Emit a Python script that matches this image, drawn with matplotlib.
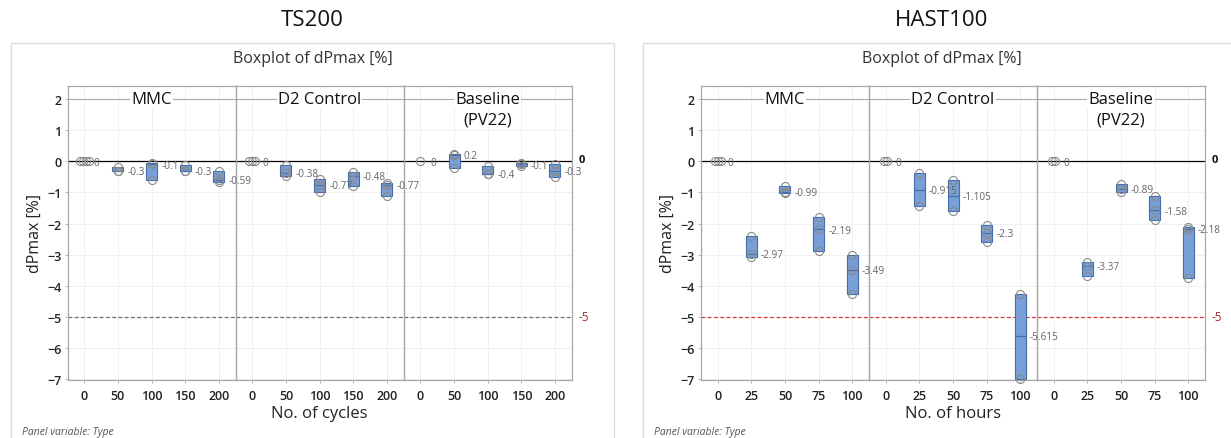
import matplotlib
matplotlib.use("Agg")
import matplotlib.pyplot as plt
from matplotlib.patches import Rectangle
import numpy as np

plt.rcParams['font.family'] = ['Open Sans', 'DejaVu Sans']

# ---------------- data ----------------
panel_types = ['MMC', 'D2 Control', 'Baseline\n(PV22)']

ts_x = [0, 50, 100, 150, 200]
ts_mmc = [[0, 0, 0, 0], [-0.17, -0.3, -0.32], [-0.07, -0.1, -0.6],
          [-0.12, -0.3, -0.31], [-0.3, -0.59, -0.66]]
ts_d2 = [[0, 0, 0], [-0.12, -0.38, -0.48], [-0.57, -0.77, -1.0],
         [-0.33, -0.48, -0.78], [-0.7, -0.77, -1.1]]
ts_base = [[0], [-0.2, 0.2, 0.22], [-0.16, -0.4, -0.41],
           [-0.05, -0.1, -0.15], [-0.08, -0.3, -0.5]]

hast_x = [0, 25, 50, 75, 100]
hast_mmc = [[0, 0, 0], [-2.4, -2.97, -3.08], [-0.8, -0.99, -1.02],
            [-1.8, -2.19, -2.88], [-3.0, -3.49, -4.25]]
hast_d2 = [[0, 0], [-0.39, -1.44], [-0.6, -1.61],
           [-2.05, -2.3, -2.58], [-4.25, -6.98]]
hast_base = [[0, 0], [-3.22, -3.37, -3.68], [-0.72, -0.89, -1.0],
             [-1.12, -1.58, -1.9], [-2.1, -2.18, -3.75]]

ref_values = [0, -5]
y_ticks = [2, 1, 0, -1, -2, -3, -4, -5, -6, -7]

# ---------------- style ----------------
W, H = 1231, 439
BOX_FC = '#789fd7'
BOX_EC = '#446eab'
CIRC = '#8a8a8a'
SPINE = '#a8a8a8'
GRID = '#eeeeee'
YLIM = (-7.01, 2.42)

fig = plt.figure(figsize=(W / 100, H / 100), dpi=100)


def fx(px):
    return px / W


def fy(py):
    return 1 - py / H


def draw_group(ax, x, pts, bw, jstep):
    pts = np.asarray(pts, dtype=float)
    lo, hi, med = pts.min(), pts.max(), float(np.median(pts))
    if hi > lo:
        ax.add_patch(Rectangle((x - bw / 2, lo), bw, hi - lo, fc=BOX_FC,
                               ec=BOX_EC, lw=0.8, zorder=3))
        ax.plot([x - bw / 2, x + bw / 2], [med, med], color=BOX_EC, lw=0.9,
                zorder=4, solid_capstyle='butt')
    maxoff = 0.0
    vals, counts = np.unique(pts, return_counts=True)
    for v, c in zip(vals, counts):
        offs = (np.arange(c) - (c - 1) / 2) * jstep
        maxoff = max(maxoff, offs.max())
        ax.plot(x + offs, [v] * c, linestyle='none', marker='o', ms=5.8,
                mfc='none', mec=CIRC, mew=0.8, zorder=5, clip_on=False)
    lab = ('%.3f' % med).rstrip('0').rstrip('.')
    if lab in ('-0', ''):
        lab = '0'
    ax.annotate(lab, xy=(x + max(bw / 2, maxoff), med), xytext=(3, -0.5),
                textcoords='offset points', ha='left', va='center',
                fontsize=7.2, color='#666666', zorder=6, annotation_clip=False)


def draw_figure(left_px, right_px, xvals, groups, title, xlabel, ref5_color,
                box_left, box_right):
    fig.add_artist(Rectangle((fx(box_left), -0.02), fx(box_right - box_left),
                             fy(44) + 0.02, transform=fig.transFigure,
                             fill=False, ec='#dcdcdc', lw=1.0))
    cx = (box_left + box_right) / 2
    fig.text(fx(cx), fy(20), title, ha='center', va='center', fontsize=16,
             color='#111111')
    fig.text(fx(cx), fy(59), 'Boxplot of dPmax [%]', ha='center', va='center',
             fontsize=11.5, color='#333333')
    top_px, bot_px = 87, 380.5
    pw = (right_px - left_px) / 3
    step = xvals[1] - xvals[0]
    xlim = (xvals[0] - step / 2, xvals[-1] + step / 2)
    xr = xlim[1] - xlim[0]
    bw = xr * 11 / pw
    jstep = xr * 3 / pw
    axes = []
    for i, (name, grp) in enumerate(zip(panel_types, groups)):
        ax = fig.add_axes([fx(left_px + i * pw), fy(bot_px), fx(pw),
                           (bot_px - top_px) / H])
        ax.set_zorder(10 - i)
        ax.patch.set_visible(False)
        ax.set_xlim(*xlim)
        ax.set_ylim(*YLIM)
        ax.set_xticks(xvals)
        ax.set_xticklabels([str(v) for v in xvals])
        ax.set_yticks(y_ticks)
        ax.grid(True, color=GRID, lw=0.6)
        ax.set_axisbelow(True)
        for s in ax.spines.values():
            s.set_color(SPINE)
            s.set_linewidth(0.9)
        ax.tick_params(axis='x', length=2.5, width=0.6, color=SPINE,
                       labelsize=9, labelcolor='#222222', pad=4)
        ax.tick_params(axis='y', length=2.5, width=0.6, color=SPINE,
                       labelsize=9, labelcolor='#222222', pad=2)
        for t in ax.get_xticklabels() + ax.get_yticklabels():
            t.set_fontweight('semibold')
        if i > 0:
            ax.tick_params(axis='y', left=False, labelleft=False)
        ax.axhline(2, color=SPINE, lw=0.8, zorder=2)
        ax.axhline(ref_values[0], color='black', lw=0.9, zorder=2)
        ax.axhline(ref_values[1], color=ref5_color, lw=0.9, ls=(0, (3, 2)),
                   zorder=2)
        lines = name.split('\n')
        mid = (xlim[0] + xlim[1]) / 2
        for k, ln in enumerate(lines):
            kw = dict(bbox=dict(fc='white', ec='none', pad=0.8)) if k == 0 else {}
            ax.annotate(ln, xy=(mid, 2), xytext=(0, -14.5 * k),
                        textcoords='offset points', ha='center', va='center',
                        fontsize=12, color='#111111', zorder=7, **kw)
        for x, pts in zip(xvals, grp):
            draw_group(ax, x, pts, bw, jstep)
        axes.append(ax)
    a0, a2 = axes[0], axes[2]
    a0.set_ylabel('dPmax [%]', fontsize=11.5, color='#222222', labelpad=3)
    a2.annotate('0', xy=(1, ref_values[0]), xycoords=('axes fraction', 'data'),
                xytext=(5, 1.5), textcoords='offset points', ha='left',
                va='center', fontsize=8, fontweight='bold', color='#111111')
    a2.annotate('-5', xy=(1, ref_values[1]), xycoords=('axes fraction', 'data'),
                xytext=(5, 0), textcoords='offset points', ha='left',
                va='center', fontsize=8.5, color='#a02a2a')
    fig.text(fx((left_px + right_px) / 2), fy(414), xlabel, ha='center',
             va='center', fontsize=12, color='#222222')
    fig.text(fx(box_left + 11), fy(433), 'Panel variable: Type', ha='left',
             va='center', fontsize=7.5, style='italic', color='#555555')


draw_figure(67.5, 571.7, ts_x, [ts_mmc, ts_d2, ts_base], 'TS200',
            'No. of cycles', '#7a6a6a', 11, 614)
draw_figure(701, 1205, hast_x, [hast_mmc, hast_d2, hast_base], 'HAST100',
            'No. of hours', '#d43a3a', 643, 1240)

fig.savefig('out.png', dpi=100)
